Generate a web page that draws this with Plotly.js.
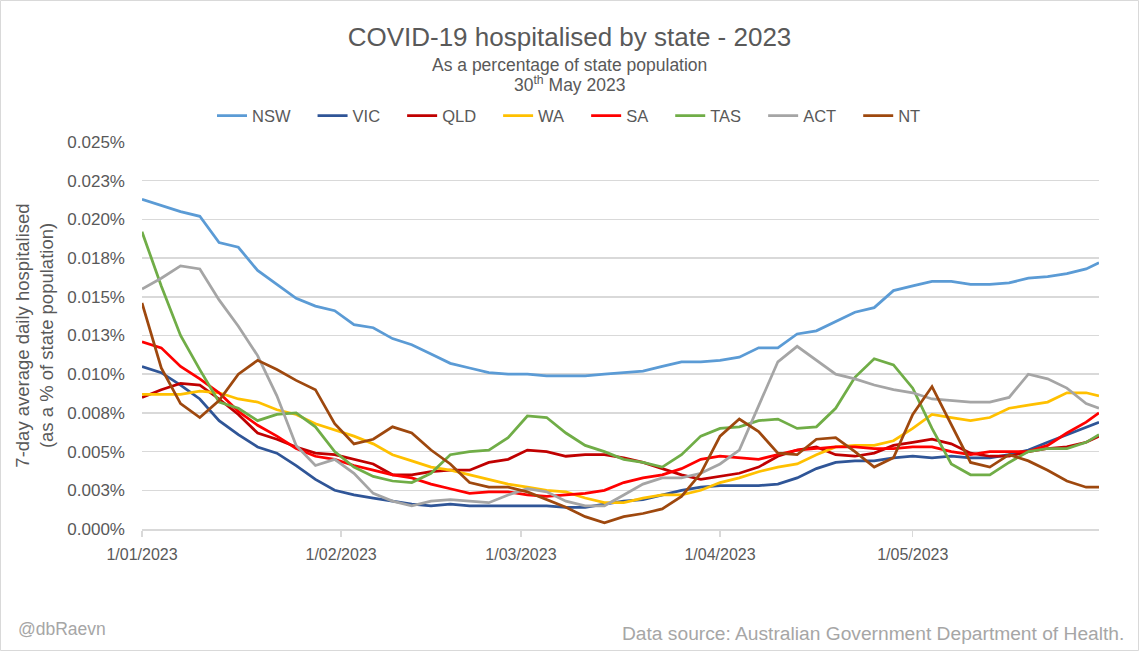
<!DOCTYPE html>
<html>
<head>
<meta charset="utf-8">
<script src="https://cdn.plot.ly/plotly-3.0.1.min.js"></script>
<style>
  html, body { margin: 0; padding: 0; background: #ffffff; }
  #chart { width: 1139px; height: 651px; }
</style>
</head>
<body>
<div id="chart"></div>
<script>
// Dates sampled every 3 days from 1 Jan 2023 to 30 May 2023
const dates = [
  '2023-01-01','2023-01-04','2023-01-07','2023-01-10','2023-01-13','2023-01-16','2023-01-19','2023-01-22','2023-01-25','2023-01-28','2023-01-31',
  '2023-02-03','2023-02-06','2023-02-09','2023-02-12','2023-02-15','2023-02-18','2023-02-21','2023-02-24','2023-02-27',
  '2023-03-02','2023-03-05','2023-03-08','2023-03-11','2023-03-14','2023-03-17','2023-03-20','2023-03-23','2023-03-26','2023-03-29',
  '2023-04-01','2023-04-04','2023-04-07','2023-04-10','2023-04-13','2023-04-16','2023-04-19','2023-04-22','2023-04-25','2023-04-28',
  '2023-05-01','2023-05-04','2023-05-07','2023-05-10','2023-05-13','2023-05-16','2023-05-19','2023-05-22','2023-05-25','2023-05-28','2023-05-30'
];

// Values in % of state population
const nsw = [0.0213,0.0209,0.0205,0.0202,0.0185,0.0182,0.0167,0.0158,0.0149,0.0144,0.0141,0.0132,0.0130,
  0.0123,0.0119,0.0113,0.0107,0.0104,0.0101,0.0100,0.0100,0.0099,0.0099,0.0099,0.0100,0.0101,
  0.0102,0.0105,0.0108,0.0108,0.0109,0.0111,0.0117,0.0117,0.0126,0.0128,0.0134,0.0140,
  0.0143,0.0154,0.0157,0.0160,0.0160,0.0158,0.0158,0.0159,0.0162,0.0163,0.0165,0.0168,0.0172];
const vic = [0.0105,0.0101,0.0093,0.0084,0.0070,0.0061,0.0053,0.0049,0.0041,0.0032,0.0025,0.0022,0.0020,
  0.0018,0.0016,0.0015,0.0016,0.0015,0.0015,0.0015,0.0015,0.0015,0.0014,0.0014,0.0016,0.0018,
  0.0019,0.0022,0.0025,0.0027,0.0028,0.0028,0.0028,0.0029,0.0033,0.0039,0.0043,0.0044,
  0.0044,0.0046,0.0047,0.0046,0.0047,0.0046,0.0046,0.0048,0.0051,0.0056,0.0061,0.0066,0.0069];
const qld = [0.0085,0.0090,0.0094,0.0093,0.0084,0.0074,0.0062,0.0058,0.0053,0.0049,0.0048,0.0045,0.0042,
  0.0035,0.0035,0.0037,0.0038,0.0038,0.0043,0.0045,0.0051,0.0050,0.0047,0.0048,0.0048,0.0046,
  0.0043,0.0039,0.0035,0.0032,0.0034,0.0036,0.0040,0.0047,0.0051,0.0053,0.0048,0.0047,
  0.0049,0.0054,0.0056,0.0058,0.0055,0.0049,0.0047,0.0047,0.0050,0.0052,0.0053,0.0056,0.0060];
const wa = [0.0087,0.0087,0.0087,0.0089,0.0088,0.0084,0.0082,0.0077,0.0074,0.0068,0.0064,0.0060,0.0055,
  0.0048,0.0044,0.0040,0.0038,0.0035,0.0032,0.0029,0.0027,0.0025,0.0024,0.0020,0.0017,0.0017,
  0.0020,0.0022,0.0022,0.0025,0.0030,0.0033,0.0037,0.0040,0.0042,0.0048,0.0053,0.0054,
  0.0054,0.0057,0.0065,0.0074,0.0072,0.0070,0.0072,0.0078,0.0080,0.0082,0.0088,0.0088,0.0086];
const sa = [0.0121,0.0117,0.0105,0.0097,0.0088,0.0076,0.0067,0.0060,0.0052,0.0047,0.0045,0.0041,0.0038,
  0.0035,0.0033,0.0029,0.0026,0.0023,0.0024,0.0024,0.0022,0.0021,0.0022,0.0023,0.0025,0.0030,
  0.0033,0.0035,0.0039,0.0045,0.0047,0.0046,0.0045,0.0048,0.0051,0.0052,0.0053,0.0053,
  0.0052,0.0052,0.0053,0.0053,0.0050,0.0048,0.0050,0.0050,0.0050,0.0054,0.0062,0.0069,0.0075];
const tas = [0.0192,0.0157,0.0125,0.0103,0.0082,0.0078,0.0070,0.0074,0.0075,0.0066,0.0050,0.0040,0.0034,
  0.0031,0.0030,0.0036,0.0048,0.0050,0.0051,0.0059,0.0073,0.0072,0.0062,0.0054,0.0050,0.0045,
  0.0043,0.0040,0.0048,0.0060,0.0065,0.0066,0.0070,0.0071,0.0065,0.0066,0.0078,0.0098,
  0.0110,0.0106,0.0091,0.0065,0.0042,0.0035,0.0035,0.0043,0.0050,0.0052,0.0052,0.0056,0.0061];
const act = [0.0155,0.0162,0.0170,0.0168,0.0148,0.0131,0.0112,0.0086,0.0054,0.0041,0.0045,0.0036,0.0023,
  0.0018,0.0015,0.0018,0.0019,0.0018,0.0017,0.0022,0.0026,0.0024,0.0018,0.0015,0.0015,0.0022,
  0.0029,0.0033,0.0033,0.0036,0.0042,0.0051,0.0080,0.0108,0.0118,0.0109,0.0100,0.0097,
  0.0093,0.0090,0.0088,0.0084,0.0083,0.0082,0.0082,0.0085,0.0100,0.0097,0.0091,0.0081,0.0078];
const nt = [0.0146,0.0104,0.0081,0.0072,0.0083,0.0100,0.0109,0.0103,0.0096,0.0090,0.0068,0.0055,0.0058,
  0.0066,0.0062,0.0051,0.0042,0.0030,0.0027,0.0027,0.0024,0.0019,0.0014,0.0008,0.0004,0.0008,
  0.0010,0.0013,0.0021,0.0036,0.0060,0.0071,0.0063,0.0049,0.0048,0.0058,0.0059,0.0050,
  0.0040,0.0046,0.0074,0.0092,0.0068,0.0043,0.0040,0.0048,0.0044,0.0038,0.0031,0.0027,0.0027];

const seriesNames = ['NSW','VIC','QLD','WA','SA','TAS','ACT','NT'];
const seriesValues = [nsw, vic, qld, wa, sa, tas, act, nt];
const seriesColors = ['#5B9BD5','#2F5597','#C00000','#FFC000','#FF0000','#70AD47','#A5A5A5','#9E480E'];

const yTickVals = [0,0.0025,0.005,0.0075,0.01,0.0125,0.015,0.0175,0.02,0.0225,0.025];
const yTickText = ['0.000%','0.003%','0.005%','0.008%','0.010%','0.013%','0.015%','0.018%','0.020%','0.023%','0.025%'];
const xTickVals = ['2023-01-01','2023-02-01','2023-03-01','2023-04-01','2023-05-01'];
const xTickText = ['1/01/2023','1/02/2023','1/03/2023','1/04/2023','1/05/2023'];

// pixel -> paper helpers (plot area 142..1099 x 142..529)
const L = 142, R = 1099, T = 142, B = 529;
const px = p => (p - L) / (R - L);
const py = p => (B - p) / (B - T);

const FONT = 'Liberation Sans, Arial, sans-serif';
const GREY = '#595959';
const PAD = '\u00a0\u00a0\u00a0\u2009';  // trailing spacing between legend entries

const traces = seriesNames.map((n, i) => ({
  type: 'scatter', mode: 'lines', name: n + PAD,
  x: dates, y: seriesValues[i],
  line: { color: seriesColors[i], width: 2.75 },
  hoverinfo: 'skip'
}));

const layout = {
  width: 1139, height: 651,
  margin: { l: L, r: 1139 - R, t: T, b: 651 - B, pad: 0 },
  paper_bgcolor: '#ffffff', plot_bgcolor: '#ffffff',
  font: { family: FONT, color: GREY, size: 16 },
  showlegend: true,
  hovermode: false,
  title: {
    text: 'COVID-19 hospitalised by state - 2023',
    font: { family: FONT, size: 26, color: GREY },
    x: 0.5, xref: 'container', xanchor: 'center',
    y: 1 - 37 / 651, yref: 'container', yanchor: 'middle'
  },
  legend: {
    orientation: 'h', x: px(212), xanchor: 'left', y: py(116), yanchor: 'middle',
    font: { family: FONT, size: 16.5, color: GREY },
    bgcolor: 'rgba(0,0,0,0)'
  },
  xaxis: {
    type: 'date', range: ['2023-01-01', '2023-05-30'],
    tickvals: xTickVals, ticktext: xTickText,
    showgrid: false, zeroline: false,
    showline: true, linecolor: '#D9D9D9', linewidth: 1.5,
    ticks: 'outside', ticklen: 6, tickcolor: '#D9D9D9', tickwidth: 1.5,
    tickfont: { family: FONT, size: 16, color: GREY },
    ticklabelstandoff: 4,
    fixedrange: true
  },
  yaxis: {
    range: [0, 0.025],
    tickvals: yTickVals, ticktext: yTickText,
    showgrid: true, gridcolor: '#D9D9D9', gridwidth: 1.5,
    zeroline: false, showline: false, ticks: '',
    tickfont: { family: FONT, size: 17, color: GREY },
    ticklabelstandoff: 16,
    title: {
      text: '7-day average daily hospitalised<br>(as a % of state population)',
      font: { family: FONT, size: 18.5, color: GREY },
      standoff: 8
    },
    fixedrange: true
  },
  annotations: [
    { text: 'As a percentage of state population', xref: 'paper', yref: 'paper',
      x: px(569), y: py(65), xanchor: 'center', yanchor: 'middle', showarrow: false,
      font: { family: FONT, size: 17.5, color: GREY } },
    { text: '30<sup>th</sup> May 2023', xref: 'paper', yref: 'paper',
      x: px(569), y: py(87), xanchor: 'center', yanchor: 'bottom', yshift: -10, showarrow: false,
      font: { family: FONT, size: 17.5, color: GREY } },
    { text: '@dbRaevn', xref: 'paper', yref: 'paper',
      x: px(16), y: py(629), xanchor: 'left', yanchor: 'middle', showarrow: false,
      font: { family: FONT, size: 17.5, color: '#A6A6A6' } },
    { text: 'Data source: Australian Government Department of Health.', xref: 'paper', yref: 'paper',
      x: px(1126), y: py(633), xanchor: 'right', yanchor: 'middle', showarrow: false,
      font: { family: FONT, size: 19.2, color: '#A6A6A6' } }
  ],
  shapes: [
    { type: 'rect', xref: 'paper', yref: 'paper', layer: 'above',
      x0: px(0.5), x1: px(1138.5), y0: py(650.5), y1: py(0.5),
      line: { color: '#D9D9D9', width: 1 }, fillcolor: 'rgba(0,0,0,0)' }
  ]
};

Plotly.newPlot('chart', traces, layout, { displayModeBar: false, staticPlot: true });
</script>
</body>
</html>
